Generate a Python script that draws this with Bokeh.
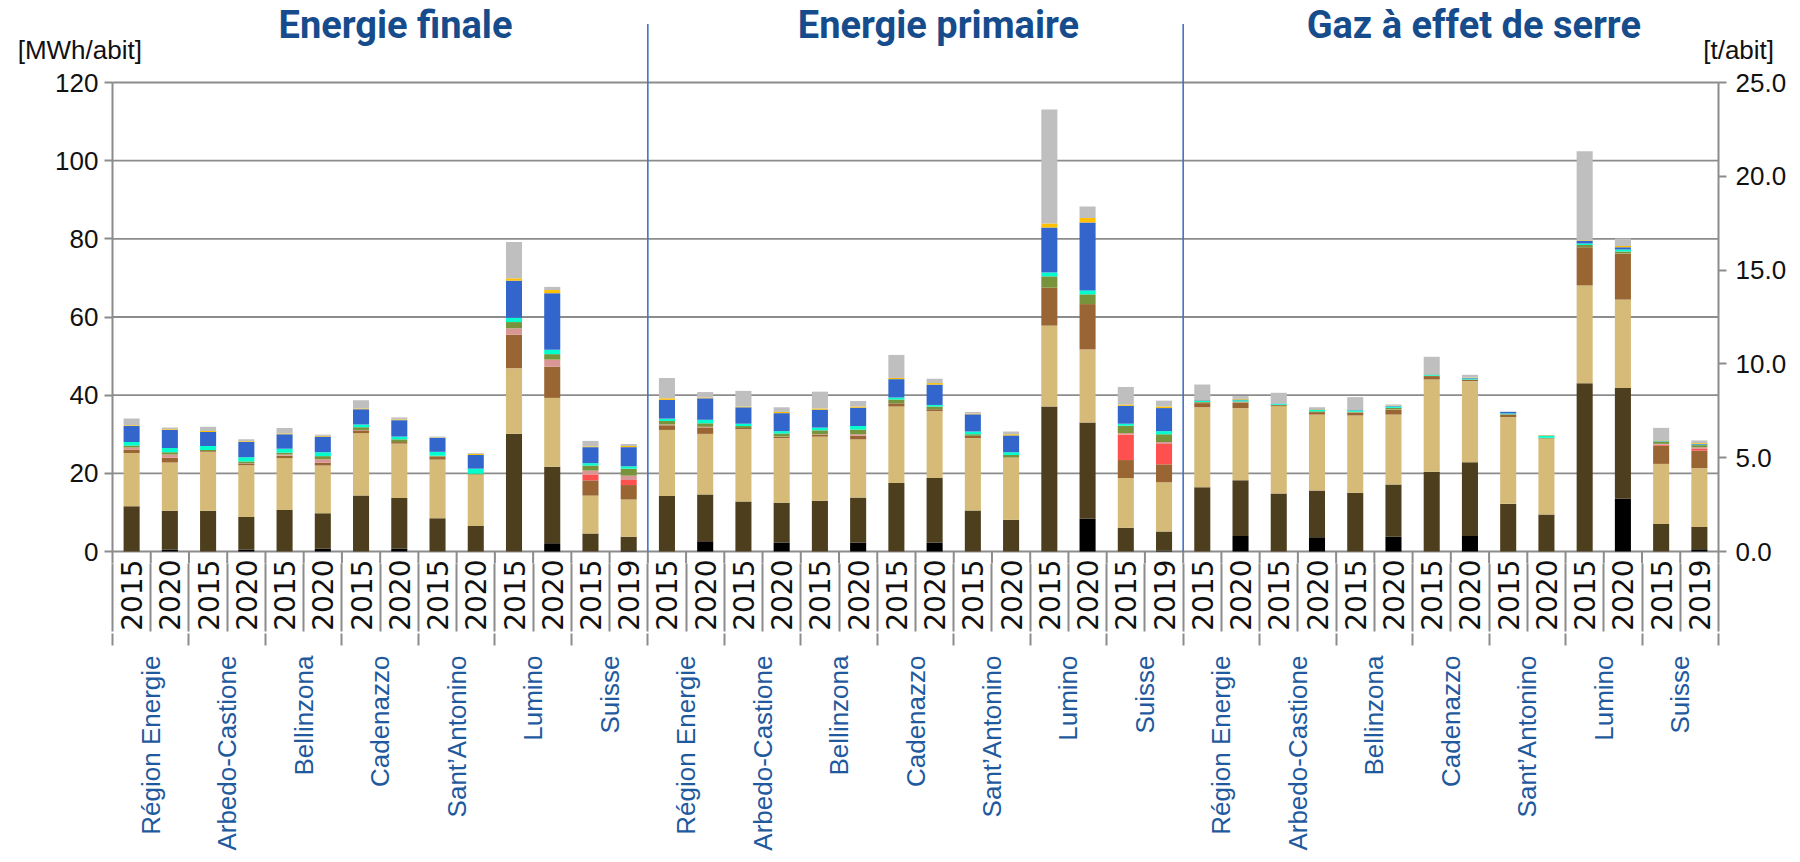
import math
from bokeh.plotting import figure
from bokeh.models import (ColumnDataSource, Range1d, LinearAxis, FixedTicker,
                          NumeralTickFormatter)
from bokeh.core.properties import value
from bokeh.embed import file_html
from bokeh.resources import INLINE

# ---------------- data ----------------
sections = ["Energie finale", "Energie primaire", "Gaz à effet de serre"]
locations = ["Région Energie", "Arbedo-Castione", "Bellinzona", "Cadenazzo",
             "Sant’Antonino", "Lumino", "Suisse"]
years = ["2015", "2020", "2015", "2020", "2015", "2020", "2015", "2020",
         "2015", "2020", "2015", "2020", "2015", "2019"]
units = ["[MWh/abit]", "[t/abit]"]

series = ["black", "dark_brown", "tan", "brown", "red", "pink", "green",
          "aqua", "blue", "yellow", "grey"]
colors = ["#000000", "#4D3F1E", "#D6BB78", "#996633", "#FF5050", "#DA9694",
          "#77933C", "#00FFCC", "#3366CC", "#FFC000", "#BFBFBF"]

# Energie finale [MWh/abit]
fin_black = [0, 0.5, 0, 0.5, 0, 0.7, 0, 0.7, 0, 0, 0, 2.1, 0, 0.1]
fin_dark_brown = [11.6, 9.9, 10.4, 8.3, 10.6, 9.1, 14.3, 13.0, 8.5, 6.5, 30.1, 19.6, 4.6, 3.7]
fin_tan = [13.6, 12.4, 15.1, 13.3, 13.3, 12.2, 16.0, 13.9, 15.0, 13.2, 16.8, 17.6, 9.7, 9.5]
fin_brown = [0.9, 1.2, 0.2, 0.4, 0.6, 0.7, 0.7, 0.4, 0.8, 0, 8.6, 8.0, 3.9, 3.7]
fin_red = [0, 0, 0, 0, 0, 0, 0, 0, 0, 0, 0, 0, 1.5, 1.3]
fin_pink = [0.5, 0.8, 0, 0.1, 0.3, 0.9, 0.1, 0, 0, 0, 1.6, 1.8, 1.0, 1.1]
fin_green = [0.5, 0.6, 0.3, 0.4, 0.5, 0.8, 0.7, 0.7, 0.2, 0.2, 1.6, 1.4, 1.3, 1.8]
fin_aqua = [0.9, 1.1, 1.0, 1.1, 1.0, 1.0, 0.7, 0.7, 1.0, 1.3, 1.1, 1.1, 0.6, 0.6]
fin_blue = [4.1, 4.6, 3.6, 3.9, 3.7, 4.0, 3.9, 4.2, 3.6, 3.5, 9.5, 14.5, 4.1, 4.9]
fin_yellow = [0.2, 0.2, 0.2, 0.2, 0.2, 0.2, 0.2, 0.2, 0.1, 0.3, 0.6, 0.8, 0.2, 0.3]
fin_grey = [1.7, 0.4, 1.1, 0.5, 1.4, 0.3, 2.1, 0.5, 0.2, 0.2, 9.3, 0.8, 1.4, 0.5]

# Energie primaire [MWh/abit]
pri_black = [0, 2.6, 0, 2.3, 0, 2.3, 0, 2.3, 0, 0, 0, 8.4, 0, 0.2]
pri_dark_brown = [14.2, 12.0, 12.8, 10.2, 13.0, 11.5, 17.5, 16.5, 10.5, 8.1, 37.1, 24.6, 6.1, 4.9]
pri_tan = [16.9, 15.5, 18.5, 16.5, 16.4, 14.9, 19.6, 17.1, 18.5, 15.9, 20.7, 18.7, 12.7, 12.6]
pri_brown = [1.2, 1.5, 0.3, 0.3, 0.5, 0.9, 0.8, 0.5, 0.6, 0.1, 9.7, 11.6, 4.6, 4.6]
pri_red = [0, 0, 0, 0, 0, 0, 0, 0, 0, 0, 0, 0, 6.5, 5.2]
pri_pink = [0.2, 0.3, 0, 0.1, 0.1, 0.4, 0, 0, 0, 0, 0, 0, 0.4, 0.5]
pri_green = [0.9, 0.9, 0.5, 0.8, 1.0, 1.2, 1.0, 0.7, 0.4, 0.6, 2.9, 2.5, 1.9, 2.0]
pri_aqua = [0.6, 0.9, 0.6, 0.6, 0.7, 0.9, 0.5, 0.4, 0.7, 0.7, 1.0, 1.0, 0.5, 0.8]
pri_blue = [4.8, 5.5, 4.2, 4.6, 4.6, 4.7, 4.7, 5.2, 4.4, 4.3, 11.5, 17.4, 4.6, 5.9]
pri_yellow = [0.4, 0.2, 0.2, 0.3, 0.3, 0.3, 0.3, 0.4, 0.2, 0.3, 1.0, 1.1, 0.3, 0.4]
pri_grey = [5.2, 1.4, 4.0, 1.2, 4.3, 1.4, 5.9, 1.1, 0.4, 0.7, 29.2, 3.0, 4.5, 1.5]

# Gaz à effet de serre [t/abit]
ghg_black = [0, 0.82, 0, 0.76, 0, 0.78, 0, 0.82, 0, 0, 0, 2.81, 0, 0.12]
ghg_dark_brown = [3.43, 2.98, 3.09, 2.49, 3.13, 2.79, 4.25, 3.94, 2.54, 1.97, 8.97, 5.91, 1.47, 1.18]
ghg_tan = [4.26, 3.84, 4.66, 4.05, 4.12, 3.73, 4.92, 4.32, 4.62, 4.04, 5.21, 4.71, 3.20, 3.14]
ghg_brown = [0.22, 0.30, 0.05, 0.13, 0.14, 0.25, 0.18, 0.07, 0.14, 0.02, 2.04, 2.44, 0.98, 0.94]
ghg_red = [0, 0, 0, 0, 0, 0, 0, 0, 0, 0, 0, 0, 0.04, 0.09]
ghg_pink = [0.02, 0.02, 0, 0, 0.02, 0.02, 0, 0, 0, 0, 0, 0.02, 0.05, 0.09]
ghg_green = [0.04, 0.04, 0.02, 0.04, 0.04, 0.09, 0.02, 0.02, 0.02, 0.03, 0.12, 0.10, 0.12, 0.11]
ghg_aqua = [0.06, 0.06, 0.05, 0.08, 0.07, 0.07, 0.05, 0.05, 0.04, 0.10, 0.08, 0.11, 0.02, 0.03]
ghg_blue = [0.03, 0.04, 0.02, 0.02, 0.02, 0.03, 0.02, 0.03, 0.08, 0.02, 0.14, 0.12, 0.03, 0.04]
ghg_yellow = [0.01, 0.04, 0, 0.02, 0, 0.02, 0.01, 0.02, 0, 0.02, 0.03, 0.07, 0.02, 0.04]
ghg_grey = [0.83, 0.14, 0.57, 0.10, 0.69, 0.06, 0.93, 0.15, 0.02, 0, 4.75, 0.39, 0.66, 0.14]

left_ticks = [0, 20, 40, 60, 80, 100, 120]
right_ticks = [0, 5, 10, 15, 20, 25]

# ---------------- styling / layout constants ----------------
GRAY = "#8C8C8C"
TITLE_BLUE = "#164C8C"
LOC_BLUE = "#1F5A9E"
SEP_BLUE = "#4472C4"
TXT = "#111111"

W, H = 1796, 858
PLOT_L, PLOT_R = 112, 1718          # canvas px of category axis ends
PLOT_BOTTOM, PLOT_120 = 551, 82     # canvas px of y=0 and y=120
EXT_PX = 12                         # frame extends a little below y=0

n_sec = len(sections)
n_bar = len(years)
N = n_sec * n_bar
px_x = (PLOT_R - PLOT_L) / N
px_y = (PLOT_BOTTOM - PLOT_120) / 120.0
X0 = -PLOT_L / px_x
X1 = N + (W - PLOT_R) / px_x
Y_TOP = PLOT_BOTTOM / px_y
Y_EXT = EXT_PX / px_y
R2 = 25.0 / 120.0

p = figure(width=W, height=H, x_range=Range1d(X0, X1), y_range=Range1d(-Y_EXT, Y_TOP),
           x_axis_type=None, y_axis_type=None, title=None,
           output_backend="svg", toolbar_location=None,
           min_border_left=0, min_border_right=0, min_border_top=0,
           min_border_bottom=H - PLOT_BOTTOM - EXT_PX)
p.extra_y_ranges = {"ghg": Range1d(-Y_EXT * R2, Y_TOP * R2)}
p.outline_line_color = None
p.background_fill_color = "white"
p.border_fill_color = "white"


def style_y(ax, standoff):
    ax.axis_line_color = GRAY
    ax.axis_line_width = 2
    ax.major_tick_line_color = GRAY
    ax.major_tick_line_width = 2
    ax.major_tick_out = 8
    ax.major_tick_in = 0
    ax.minor_tick_line_color = None
    ax.major_label_text_font = "Liberation Sans"
    ax.major_label_text_font_size = "26px"
    ax.major_label_text_color = TXT
    ax.major_label_standoff = standoff


# gridlines (only across the bar area); the 0 line doubles as the x axis line
p.segment(x0=0, x1=N, y0=left_ticks, y1=left_ticks, line_color=GRAY, line_width=1.9)
# separators between bars, from the x axis line down to the frame edge
bounds_all = list(range(N + 1))
p.segment(x0=bounds_all, x1=bounds_all, y0=0, y1=-Y_EXT, line_color=GRAY, line_width=2)

# left axis
la = LinearAxis(ticker=FixedTicker(ticks=left_ticks), bounds=(0, 120), fixed_location=0)
style_y(la, 6)
p.add_layout(la, "left")

# right axis
ra = LinearAxis(y_range_name="ghg", ticker=FixedTicker(ticks=right_ticks),
                formatter=NumeralTickFormatter(format="0.0"), bounds=(0, 25),
                fixed_location=N)
style_y(ra, 9)
p.add_layout(ra, "right")

# bottom axis 1: years, separators between every bar
all_years = years * n_sec
centers = [i + 0.5 for i in range(N)]
xa = LinearAxis(ticker=FixedTicker(ticks=centers, minor_ticks=bounds_all),
                bounds=(0, N))
xa.major_label_overrides = {c: y for c, y in zip(centers, all_years)}
xa.axis_line_color = None
xa.major_tick_line_color = None
xa.major_tick_out = 0
xa.major_tick_in = 0
xa.minor_tick_line_color = GRAY
xa.minor_tick_line_width = 2
xa.minor_tick_out = 80 - EXT_PX
xa.minor_tick_in = 0
xa.major_label_orientation = math.pi / 2
xa.major_label_standoff = -(80 - EXT_PX) + (8 - EXT_PX)
xa.major_label_text_font = "DejaVu Sans"
xa.major_label_text_font_size = "28px"
xa.major_label_text_color = TXT
p.add_layout(xa, "below")

# bottom axis 2: location names, longer separators between pairs
pair_centers = [2 * k + 1 for k in range(N // 2)]
all_locs = locations * n_sec
xb = LinearAxis(ticker=FixedTicker(ticks=pair_centers, minor_ticks=list(range(0, N + 1, 2))),
                bounds=(0, N))
xb.major_label_overrides = {c: l for c, l in zip(pair_centers, all_locs)}
xb.axis_line_color = None
xb.major_tick_line_color = None
xb.major_tick_out = 0
xb.major_tick_in = 0
xb.minor_tick_line_color = GRAY
xb.minor_tick_line_width = 2
xb.minor_tick_out = 12
xb.minor_tick_in = 0
xb.major_label_orientation = math.pi / 2
xb.major_label_standoff = 10
xb.major_label_text_font = "Liberation Sans"
xb.major_label_text_font_size = "26px"
xb.major_label_text_color = LOC_BLUE
p.add_layout(xb, "below")

# stacked bars
sec_data = [
    [fin_black, fin_dark_brown, fin_tan, fin_brown, fin_red, fin_pink, fin_green,
     fin_aqua, fin_blue, fin_yellow, fin_grey],
    [pri_black, pri_dark_brown, pri_tan, pri_brown, pri_red, pri_pink, pri_green,
     pri_aqua, pri_blue, pri_yellow, pri_grey],
    [ghg_black, ghg_dark_brown, ghg_tan, ghg_brown, ghg_red, ghg_pink, ghg_green,
     ghg_aqua, ghg_blue, ghg_yellow, ghg_grey],
]
for s, lists in enumerate(sec_data):
    d = {"x": [s * n_bar + i + 0.5 for i in range(n_bar)]}
    for name, vals in zip(series, lists):
        d[name] = vals
    src = ColumnDataSource(d)
    kw = {"y_range_name": "ghg"} if s == 2 else {}
    p.vbar_stack(series, x="x", width=0.42, color=colors, line_color=None,
                 source=src, **kw)

# section separators
p.segment(x0=[n_bar * k for k in range(1, n_sec)], y0=0,
          x1=[n_bar * k for k in range(1, n_sec)], y1=135.0,
          line_color=SEP_BLUE, line_width=1.6)

# section titles
p.text(x=[7.4, 21.6, 35.6], y=[134.6] * 3, text=sections,
       text_font=value("Roboto"), text_font_style="bold",
       text_font_size="38px", text_color=TITLE_BLUE, text_align="center",
       text_baseline="alphabetic")

# unit labels
p.text(x=[-2.48, 41.6], y=[128.2, 128.2], text=units,
       text_font=value("Liberation Sans"), text_font_size="26px",
       text_color=TXT, text_align="left", text_baseline="alphabetic")

open("out.html", "w").write(file_html(p, INLINE))
